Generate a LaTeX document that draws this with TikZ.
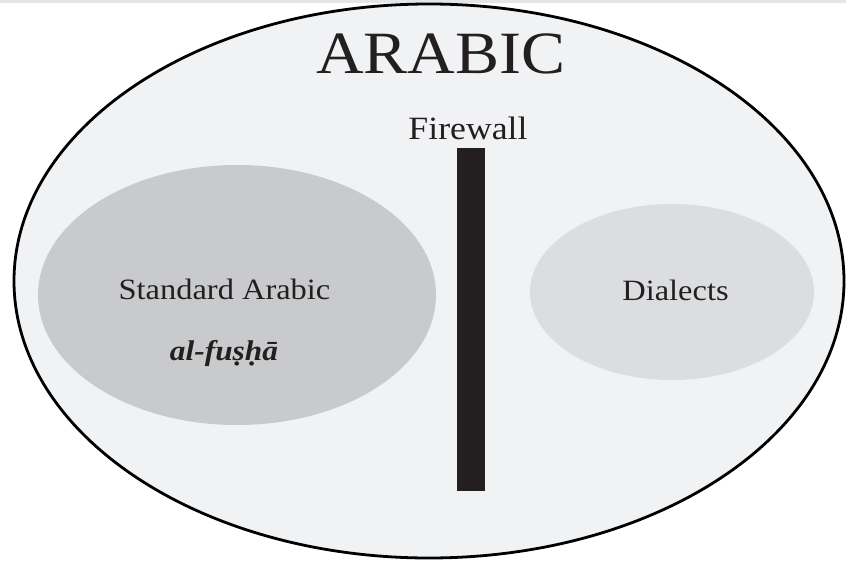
\documentclass[tikz,border=0pt]{standalone}
\usepackage{fontspec}
\setmainfont{Liberation Serif}
\definecolor{outerfill}{HTML}{F1F2F4}
\definecolor{leftfill}{HTML}{C9CACC}
\definecolor{rightfill}{HTML}{DCDDDF}
\definecolor{inkdark}{HTML}{231F20}
\definecolor{topband}{HTML}{E4E5E7}
\tikzset{
  lbl/.style={anchor=base, inner sep=0pt, text=inkdark, xscale=1.1, transform shape},
}
\begin{document}
\begin{tikzpicture}[x=1pt,y=-1pt]
\useasboundingbox (0,0) rectangle (846,562);
\fill[white] (0,0) rectangle (846,562);
\fill[topband] (0,0) rectangle (846,3);
% outer ellipse
\draw[black, line width=2.8pt, fill=outerfill] (429,281) ellipse [x radius=415, y radius=277];
% inner ellipses
\fill[leftfill] (237,295) ellipse [x radius=199, y radius=130];
\fill[rightfill] (672,292) ellipse [x radius=142, y radius=88];
% firewall bar
\fill[inkdark] (457,148) rectangle (485,491);
% labels
\node[lbl, font=\fontsize{60}{60}\selectfont] (arabic) at (441,73) {ARABIC};
\node[lbl, font=\fontsize{32.5}{32.5}\selectfont] (firewall) at (468,139) {Firewall};
\node[lbl, font=\fontsize{29.5}{29.5}\selectfont] (standard) at (224.5,299) {Standard Arabic};
\node[lbl, font=\fontsize{28.5}{28.5}\selectfont\bfseries\itshape] (fusha) at (224,360) {al-fuṣḥā};
\node[lbl, font=\fontsize{29.5}{29.5}\selectfont] (dialects) at (675.5,300) {Dialects};
\end{tikzpicture}
\end{document}
